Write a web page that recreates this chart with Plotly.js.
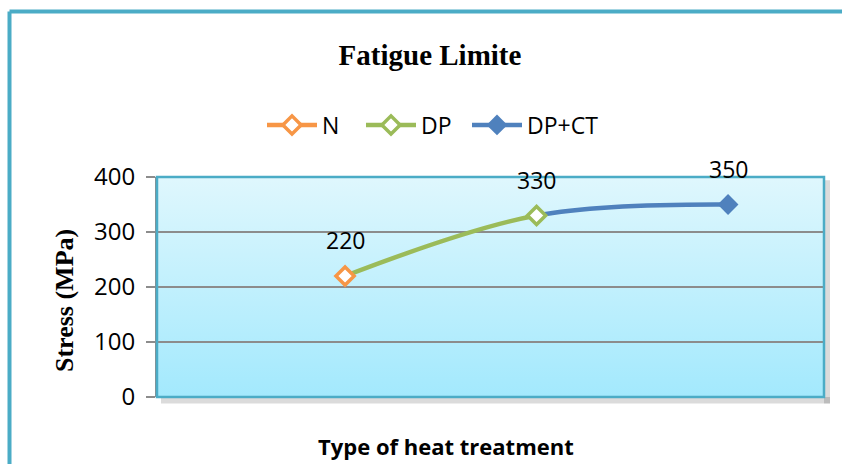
<!DOCTYPE html>
<html>
<head>
<meta charset="utf-8">
<script src="https://cdn.plot.ly/plotly-3.0.1.min.js"></script>
<style>html,body{margin:0;padding:0;background:#fff;}#chart{width:842px;height:464px;}</style>
</head>
<body>
<div id="chart"></div>
<script>
// ---- data ----
const categories = ['N', 'DP', 'DP+CT'];
const xPos = [1, 2, 3];
const stress = [220, 330, 350];
const yTicks = [0, 100, 200, 300, 400];

// ---- styles ----
const colors = ['#F79646', '#9BBB59', '#4F81BD'];
const teal = '#4BACC6';
const xMin = 0.018, xMax = 3.501;
const split = (xPos[1] - xMin) / (xMax - xMin);
const sans = 'Open Sans, sans-serif';
const serif = 'Liberation Serif, serif';
const legendNames = ['legend', 'legend2', 'legend3'];
const legendLeft = [262, 361, 467];

const traces = [];
// green smoothed line, clipped to left part
traces.push({x: xPos, y: stress, type: 'scatter', mode: 'lines', xaxis: 'x', yaxis: 'y',
  line: {color: colors[1], width: 4.5, shape: 'spline', smoothing: 1}, showlegend: false, hoverinfo: 'skip'});
// blue smoothed line, clipped to right part
traces.push({x: xPos, y: stress, type: 'scatter', mode: 'lines', xaxis: 'x2', yaxis: 'y',
  line: {color: colors[2], width: 4.5, shape: 'spline', smoothing: 1}, showlegend: false, hoverinfo: 'skip'});
// markers (legend entries)
categories.forEach((c, i) => {
  const filled = i === 2;
  traces.push({x: [xPos[i]], y: [stress[i]], name: c, type: 'scatter', mode: 'lines+markers',
    xaxis: 'x3', yaxis: 'y2', cliponaxis: false, legend: legendNames[i], showlegend: true,
    line: {color: colors[i], width: 4.5},
    marker: {symbol: 'diamond', size: filled ? 16 : 14, color: filled ? colors[i] : '#ffffff',
      line: {color: colors[i], width: filled ? 0 : 3.5}}});
});

const gradSvg = '<svg xmlns="http://www.w3.org/2000/svg" width="10" height="100" preserveAspectRatio="none">' +
  '<defs><linearGradient id="g" x1="0" y1="0" x2="0" y2="1">' +
  '<stop offset="0" stop-color="#DFF7FD"/><stop offset="1" stop-color="#A3E9FD"/></linearGradient></defs>' +
  '<rect width="10" height="100" fill="url(#g)"/></svg>';

const annotations = stress.map((v, i) => ({
  x: xPos[i], y: v, xref: 'x3', yref: 'y2', text: String(v), showarrow: false,
  yshift: 36, font: {family: sans, size: 23, color: '#000'}
}));
annotations.push({text: '<b>Type of heat treatment</b>', xref: 'paper', yref: 'paper',
  x: (446 - 157) / 667, y: (397 - 446) / 220, xanchor: 'center', yanchor: 'middle', showarrow: false,
  font: {family: sans, size: 22, color: '#000'}});
annotations.push({text: '<b>Stress (MPa)</b>', xref: 'paper', yref: 'paper', textangle: -90,
  x: (64 - 157) / 667, y: (397 - 301) / 220, xanchor: 'center', yanchor: 'middle', showarrow: false,
  font: {family: serif, size: 26, color: '#000'}});

const layout = {
  width: 842, height: 464,
  margin: {l: 157, r: 18, t: 177, b: 67},
  paper_bgcolor: '#ffffff', plot_bgcolor: 'rgba(0,0,0,0)',
  title: {text: '<b>Fatigue Limite</b>', x: 430 / 842, xanchor: 'center', y: 1 - 55 / 464, yanchor: 'middle',
    font: {family: serif, size: 29, color: '#000'}},
  showlegend: true,
  xaxis: {domain: [0, split], range: [xMin, xPos[1]], visible: false, fixedrange: true},
  xaxis2: {domain: [split, 1], range: [xPos[1], xMax], visible: false, anchor: 'y', fixedrange: true},
  xaxis3: {domain: [0, 1], range: [xMin, xMax], visible: false, anchor: 'y2', fixedrange: true},
  yaxis: {range: [0, 400], tickvals: yTicks, ticktext: yTicks.map(String), showgrid: true, gridcolor: '#8C8C8C', gridwidth: 1.5,
    zeroline: false, showline: true, linecolor: '#8C8C8C', linewidth: 2, ticks: 'outside', ticklen: 9, tickcolor: '#8C8C8C', tickwidth: 2,
    ticklabelstandoff: 6,
    tickfont: {family: sans, size: 24, color: '#000'}},
  yaxis2: {range: [0, 400], anchor: 'x3', overlaying: 'y', visible: false, showgrid: false},
  images: [{source: 'data:image/svg+xml;charset=utf-8,' + encodeURIComponent(gradSvg), xref: 'paper', yref: 'paper',
    x: 0, y: 1, sizex: 1, sizey: 1, sizing: 'stretch', layer: 'below', xanchor: 'left', yanchor: 'top'}],
  shapes: [
    {type: 'rect', xref: 'paper', yref: 'paper', x0: 0.006, x1: 1.009, y0: -0.03, y1: 0, layer: 'below',
      fillcolor: 'rgba(0,0,0,0.14)', line: {width: 0}},
    {type: 'rect', xref: 'paper', yref: 'paper', x0: 1, x1: 1.009, y0: -0.03, y1: 0.985, layer: 'below',
      fillcolor: 'rgba(0,0,0,0.14)', line: {width: 0}},
    {type: 'rect', xref: 'paper', yref: 'paper', x0: 0, x1: 1, y0: 0, y1: 1, layer: 'above',
      line: {color: teal, width: 2.5}},
    {type: 'line', xref: 'paper', yref: 'paper', x0: (9.5 - 157) / 667, x1: (850 - 157) / 667, y0: (397 - 11.5) / 220, y1: (397 - 11.5) / 220,
      line: {color: teal, width: 4}},
    {type: 'line', xref: 'paper', yref: 'paper', x0: (9.5 - 157) / 667, x1: (9.5 - 157) / 667, y0: (397 - 11.5) / 220, y1: (397 - 480) / 220,
      line: {color: teal, width: 4}}
  ],
  annotations: annotations
};
legendNames.forEach((ln, i) => {
  layout[ln] = {orientation: 'h', x: legendLeft[i] / 842, xanchor: 'left', xref: 'container',
    y: 1 - 125 / 464, yanchor: 'middle', yref: 'container', bgcolor: 'rgba(0,0,0,0)',
    font: {family: sans, size: 23, color: '#000'}, itemwidth: 50};
});

Plotly.newPlot('chart', traces, layout, {displayModeBar: false, staticPlot: true});
</script>
</body>
</html>
